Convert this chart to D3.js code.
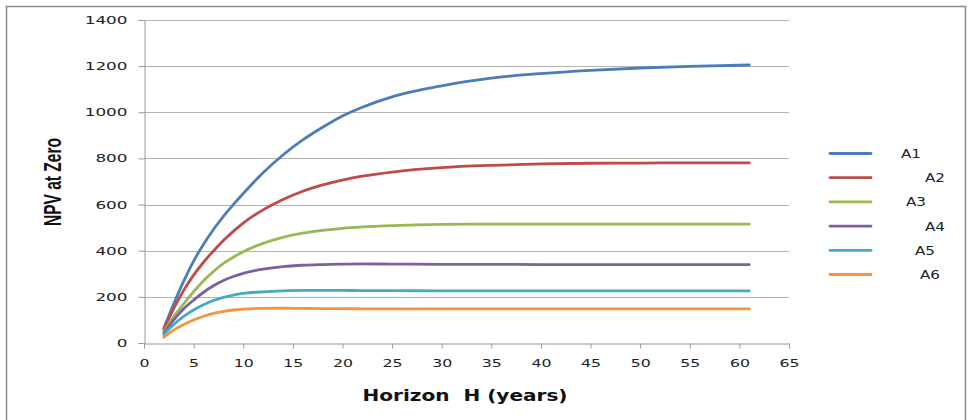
<!DOCTYPE html>
<html>
<head>
<meta charset="utf-8">
<script src="https://cdn.jsdelivr.net/npm/d3@7"></script>
<style>
  body { margin: 0; background: #fff; }
  svg { display: block; }
</style>
</head>
<body>
<svg id="chart"></svg>
<script>
// horizon values (years) and NPV at zero per series
const horizons = [2, 3, 4, 5, 6, 7, 8, 9, 10, 12, 14, 16, 18, 20, 22, 25, 30, 35, 40, 45, 50, 55, 61];
const seriesNames = ["A1", "A2", "A3", "A4", "A5", "A6"];
const a1 = [64, 170, 268, 355, 428, 492, 549, 600, 648, 738, 815, 880, 935, 984, 1022, 1067, 1115, 1148, 1168, 1182, 1192, 1199, 1205];
const a2 = [60, 150, 228, 294, 350, 399, 444, 484, 520, 577, 622, 658, 685, 706, 723, 741, 760, 770, 776, 779, 780, 781, 781];
const a3 = [50, 115, 170, 222, 270, 310, 345, 372, 396, 432, 458, 476, 488, 497, 503, 509, 514, 515, 515, 515, 515, 515, 515];
const a4 = [44, 100, 148, 186, 220, 248, 271, 288, 302, 320, 331, 337, 340, 342, 343, 342, 341, 341, 340, 340, 340, 340, 340];
const a5 = [36, 80, 115, 143, 166, 184, 198, 208, 215, 222, 226, 228, 228, 228, 227, 227, 226, 226, 226, 226, 226, 226, 226];
const a6 = [25, 56, 80, 100, 116, 128, 137, 143, 147, 150, 151, 150, 149, 149, 148, 148, 148, 148, 148, 148, 148, 148, 148];
const yTicks = [0, 200, 400, 600, 800, 1000, 1200, 1400];
const xTicks = d3.range(0, 66, 5);

const colors = ["#4A7EBB", "#BE4B48", "#98B954", "#7D60A0", "#46AAC5", "#F69240"];
// legend labels sit at uneven x in the original
const legendTextX = [901, 925, 906, 925, 915, 920];

const W = 970, H = 420;
const plot = { left: 144, right: 789, top: 20, bottom: 343 };

const svg = d3.select("#chart").attr("width", W).attr("height", H);

svg.append("rect")
  .attr("x", 6.5).attr("y", 6.5)
  .attr("width", 959).attr("height", 430)
  .attr("fill", "#fff")
  .attr("stroke", "#8a8a8a")
  .attr("stroke-width", 1.5);

const x = d3.scaleLinear().domain([0, 65]).range([plot.left, plot.right]);
const y = d3.scaleLinear().domain([0, 1400]).range([plot.bottom, plot.top]);

// horizontal gridlines
svg.append("g")
  .selectAll("line")
  .data(yTicks.filter(d => d > 0))
  .join("line")
  .attr("x1", plot.left).attr("x2", plot.right)
  .attr("y1", d => Math.round(y(d)) + 0.5).attr("y2", d => Math.round(y(d)) + 0.5)
  .attr("stroke", "#b4b4b4");

const tickFont = "'DejaVu Sans', Verdana, sans-serif";

// y axis
const yAxis = svg.append("g")
  .attr("transform", `translate(${plot.left + 0.5},0)`)
  .call(d3.axisLeft(y).tickValues(yTicks).tickSize(6).tickPadding(11).tickFormat(d3.format("d")));
yAxis.select(".domain").attr("stroke", "#9a9a9a");
yAxis.selectAll(".tick line").attr("stroke", "#9a9a9a");
yAxis.selectAll(".tick text")
  .attr("font-family", tickFont)
  .attr("font-size", 11)
  .attr("fill", "#222")
  .attr("textLength", d => String(d).length * 10.7)
  .attr("lengthAdjust", "spacingAndGlyphs");

// x axis
const xAxis = svg.append("g")
  .attr("transform", `translate(0,${plot.bottom + 0.5})`)
  .call(d3.axisBottom(x).tickValues(xTicks).tickSize(5).tickPadding(11).tickFormat(d3.format("d")));
xAxis.select(".domain").attr("stroke", "#9a9a9a");
xAxis.selectAll(".tick line").attr("stroke", "#9a9a9a");
xAxis.selectAll(".tick text")
  .attr("font-family", tickFont)
  .attr("font-size", 11)
  .attr("fill", "#222")
  .attr("textLength", d => String(d).length * 10)
  .attr("lengthAdjust", "spacingAndGlyphs");

// lines
const allSeries = [a1, a2, a3, a4, a5, a6];
const line = d3.line()
  .x((d, i) => x(horizons[i]))
  .y(d => y(d))
  .curve(d3.curveMonotoneX);

svg.append("g")
  .selectAll("path")
  .data(allSeries)
  .join("path")
  .attr("d", line)
  .attr("fill", "none")
  .attr("stroke", (d, i) => colors[i])
  .attr("stroke-width", 2.8)
  .attr("stroke-linecap", "round");

// legend
const legend = svg.append("g");
seriesNames.forEach((name, i) => {
  const ly = 153.5 + i * 24.2;
  legend.append("line")
    .attr("x1", 830).attr("x2", 871)
    .attr("y1", ly).attr("y2", ly)
    .attr("stroke", colors[i])
    .attr("stroke-width", 2.8)
    .attr("stroke-linecap", "round");
  legend.append("text")
    .attr("x", legendTextX[i]).attr("y", ly + 4.5)
    .attr("font-family", tickFont)
    .attr("font-size", 12)
    .attr("fill", "#222")
    .attr("textLength", 20)
    .attr("lengthAdjust", "spacingAndGlyphs")
    .text(name);
});

// axis titles
svg.append("text")
  .attr("x", 465).attr("y", 401)
  .attr("text-anchor", "middle")
  .attr("font-family", tickFont)
  .attr("font-weight", "bold")
  .attr("font-size", 16)
  .attr("fill", "#111")
  .attr("textLength", 205)
  .attr("lengthAdjust", "spacingAndGlyphs")
  .text("Horizon\u00a0 H (years)");

svg.append("text")
  .attr("transform", "translate(61,182) rotate(-90)")
  .attr("text-anchor", "middle")
  .attr("font-family", "'Liberation Sans Narrow', 'Liberation Sans', Arial, sans-serif")
  .attr("font-weight", "bold")
  .attr("font-size", 23)
  .attr("fill", "#111")
  .attr("textLength", 88)
  .attr("lengthAdjust", "spacingAndGlyphs")
  .text("NPV at Zero");
</script>
</body>
</html>
